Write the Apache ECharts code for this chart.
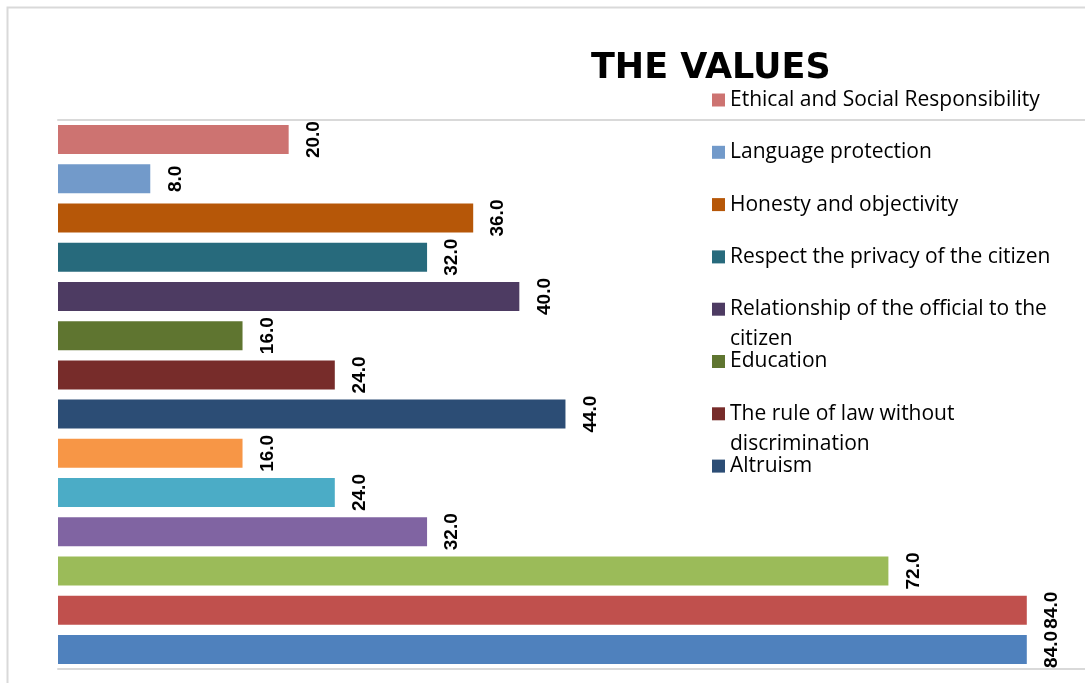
<!DOCTYPE html>
<html>
<head>
<meta charset="utf-8">
<script src="https://cdn.jsdelivr.net/npm/echarts@6/dist/echarts.min.js"></script>
<style>
  html, body { margin: 0; padding: 0; background: #fff; }
  #main { width: 1085px; height: 683px; }
</style>
</head>
<body>
<div id="main"></div>
<script>
// series from the bottom bar to the top bar
const values = [84, 84, 72, 32, 24, 16, 44, 24, 16, 40, 32, 36, 8, 20];
const seriesNames = [null, null, null, null, null, null,
  'Altruism',
  'The rule of law without discrimination',
  'Education',
  'Relationship of the official to the citizen',
  'Respect the privacy of the citizen',
  'Honesty and objectivity',
  'Language protection',
  'Ethical and Social Responsibility'];
const colors = ['#4F81BD', '#C0504D', '#9BBB59', '#8064A2', '#4BACC6', '#F79646',
  '#2C4D75', '#772C2A', '#5F7530', '#4D3B62', '#276A7C', '#B65708', '#729ACA', '#CD7371'];

// legend lists the named series from the top bar down
const legendNames = seriesNames.filter(n => n).reverse();

const legendFont = 'Open Sans';
const legendSize = 21;
const legendLine = 30;
const legendWrap = 340;
const legendFirst = 100; // centre of first legend icon
const legendStep = 52.3;

const measure = document.createElement('canvas').getContext('2d');
measure.font = legendSize + 'px "' + legendFont + '"';

const chart = echarts.init(document.getElementById('main'), null, { renderer: 'canvas' });

const series = values.map((v, i) => ({
  name: seriesNames[i] || ('s' + i),
  type: 'bar',
  stack: 'all',
  barWidth: 29,
  itemStyle: { color: colors[i] },
  data: values.map((_, j) => (j === i ? v : '-')),
  label: {
    show: true,
    position: 'right',
    distance: 25,
    rotate: 90,
    align: 'center',
    verticalAlign: 'middle',
    fontFamily: 'Liberation Sans',
    fontWeight: 'bold',
    fontSize: 19,
    color: '#000',
    formatter: p => p.value.toFixed(1)
  }
}));

const legends = legendNames.map((name, i) => {
  const wraps = measure.measureText(name).width > legendWrap;
  const centre = legendFirst + i * legendStep;
  return {
    orient: 'vertical',
    left: 712,
    top: centre - (wraps ? legendLine * 1.5 : legendLine / 2),
    padding: 0,
    icon: 'rect',
    itemWidth: 13,
    itemHeight: 13,
    selectedMode: false,
    data: [name],
    // a blank first line keeps the first wrapped line level with the icon
    formatter: n => (wraps ? '\n' + n : n),
    textStyle: {
      fontFamily: legendFont,
      fontSize: legendSize,
      color: '#000',
      width: legendWrap,
      overflow: 'break',
      lineHeight: legendLine
    }
  };
});

const option = {
  animation: false,
  title: {
    text: 'THE VALUES',
    left: 586,
    top: 46,
    textStyle: {
      fontFamily: 'DejaVu Sans',
      fontWeight: 'bold',
      fontSize: 35,
      color: '#000'
    }
  },
  legend: legends,
  graphic: [{
    type: 'rect',
    shape: { x: 7.5, y: 7.5, width: 2000, height: 2000 },
    style: { fill: null, stroke: '#d9d9d9', lineWidth: 2 },
    silent: true
  }],
  grid: {
    left: 58,
    top: 120,
    height: 549,
    right: -11,
    outerBoundsMode: 'none'
  },
  xAxis: [{
    type: 'value',
    min: 0,
    max: 90,
    position: 'bottom',
    axisLine: { show: true, lineStyle: { color: '#d9d9d9', width: 2 } },
    axisTick: { show: false },
    axisLabel: { show: false },
    splitLine: { show: false }
  }, {
    type: 'value',
    min: 0,
    max: 90,
    position: 'top',
    axisLine: { show: true, lineStyle: { color: '#d9d9d9', width: 2 } },
    axisTick: { show: false },
    axisLabel: { show: false },
    splitLine: { show: false }
  }],
  yAxis: {
    type: 'category',
    axisLine: { show: false },
    axisTick: { show: false },
    axisLabel: { show: false },
    splitLine: { show: false }
  },
  series: series
};

chart.setOption(option);
</script>
</body>
</html>
